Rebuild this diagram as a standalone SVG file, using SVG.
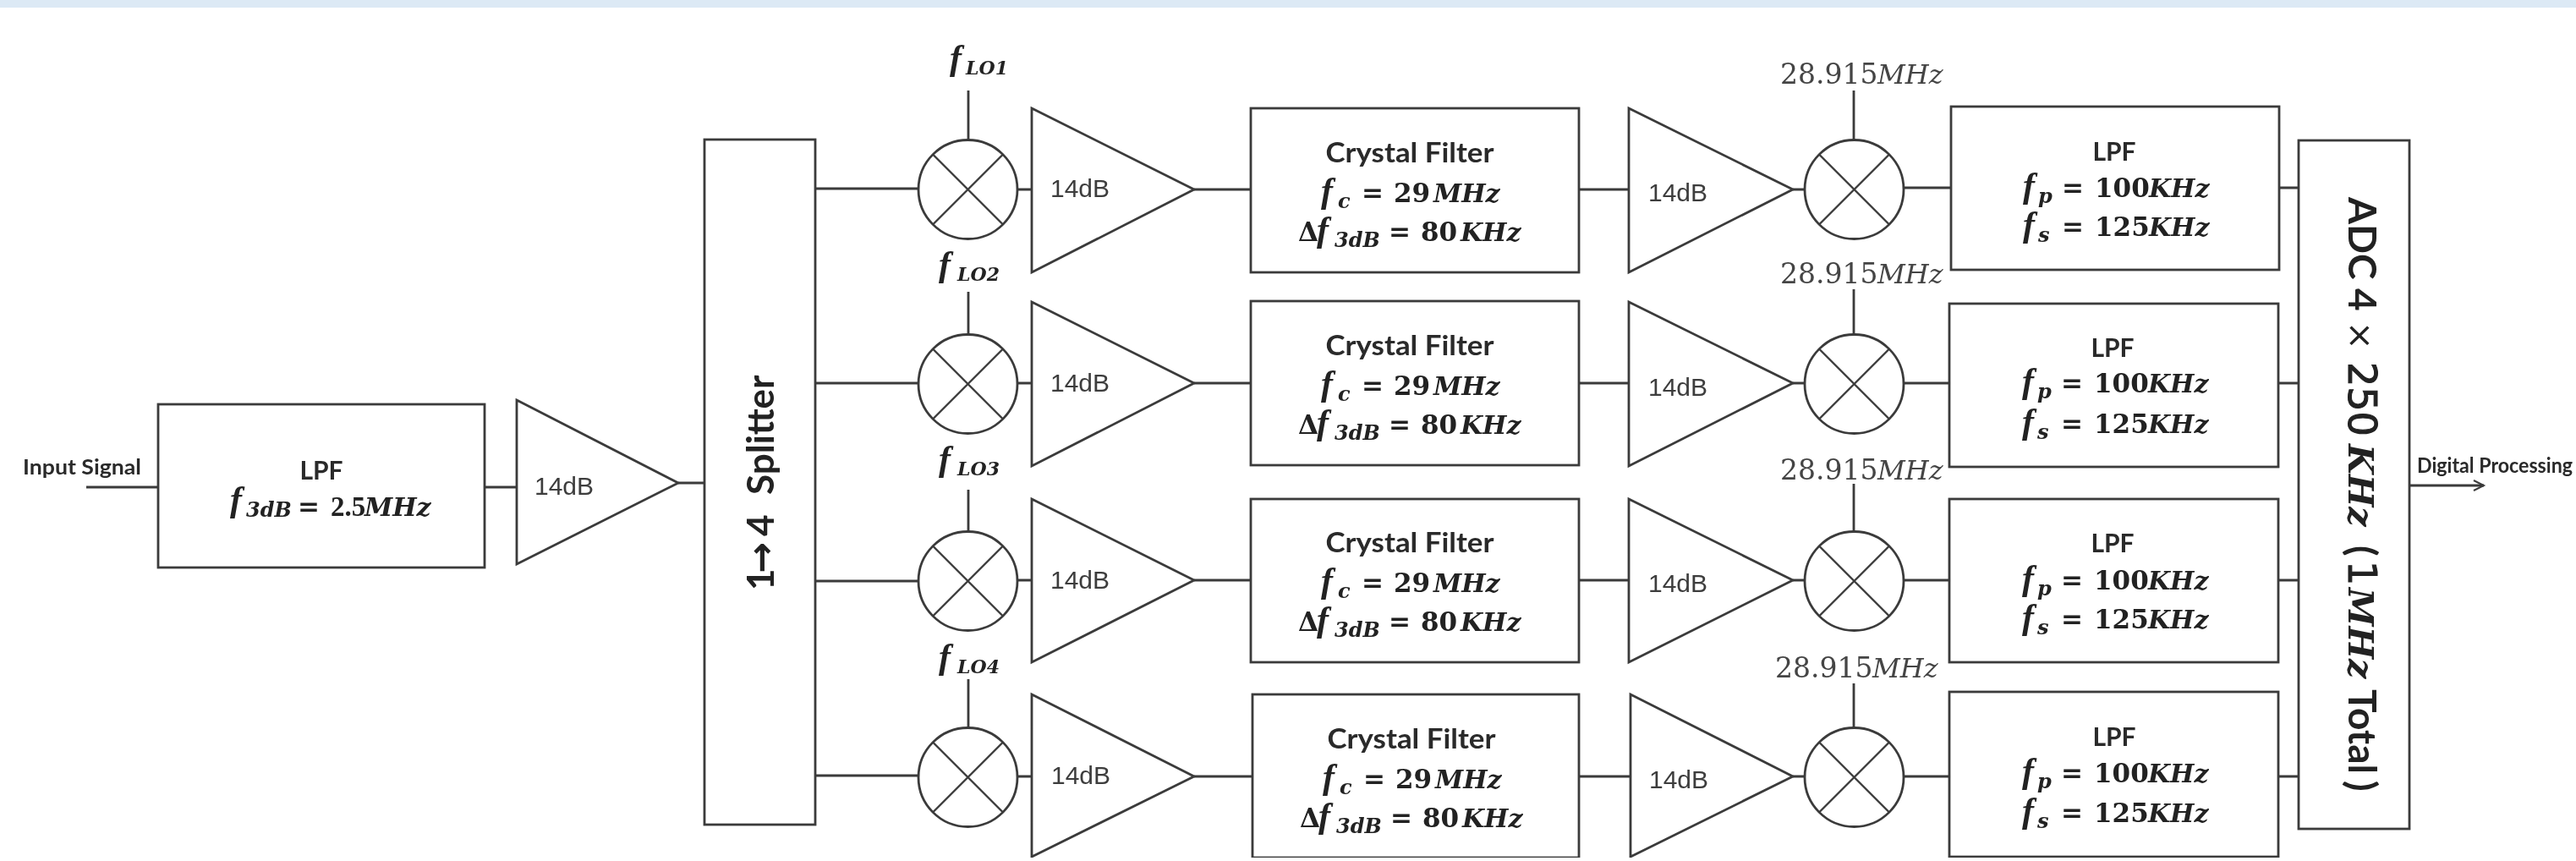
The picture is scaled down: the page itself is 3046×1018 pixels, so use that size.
<svg xmlns="http://www.w3.org/2000/svg" width="3046" height="1018" viewBox="0 0 3046 1018">
<defs>
<style>
.s{fill:none;stroke:#3a3a3a;stroke-width:2.4}
.b{fill:#fff;stroke:#3a3a3a;stroke-width:2.8}
.c{fill:none;stroke:#3a3a3a;stroke-width:2.8}
.g{font-family:"Liberation Sans",Arial,sans-serif;font-size:30px;fill:#3c3c3c}
.t{font-family:Lato,"Liberation Sans",sans-serif;font-weight:700;font-size:30px;fill:#2a2a2a;text-anchor:middle}
.x{font-size:33px}
.l{font-family:Lato,"Liberation Sans",sans-serif;font-weight:700;font-size:24px;fill:#2a2a2a}
.m{font-family:"DejaVu Serif",serif;font-weight:700;font-size:31px;fill:#222}
.f{font-family:"Liberation Serif",serif;font-style:italic;font-size:42px}
.e{font-style:italic;font-size:30px}
.u{font-style:italic;font-size:24px}
.o{font-style:italic;font-size:22px}
.n{font-family:"DejaVu Serif",serif;font-size:33px;fill:#444}
.ni{font-style:italic;font-size:32px}
.r{font-family:Lato,"Liberation Sans",sans-serif;font-weight:700;font-size:46px;fill:#222}
.ds{font-family:"DejaVu Sans",sans-serif;font-weight:400;stroke:#222;stroke-width:1}
.dsb{font-family:"DejaVu Sans",sans-serif}
.ri{font-family:"DejaVu Serif",serif;font-style:italic;font-size:41px}
</style>
<filter id="soft" x="0" y="0" width="100%" height="100%"><feGaussianBlur stdDeviation="0.7"/></filter>
<marker id="arrow" markerWidth="18" markerHeight="18" refX="15" refY="8" orient="auto" markerUnits="userSpaceOnUse"><path d="M3 2 L15 8 L3 14" fill="none" stroke="#3a3a3a" stroke-width="2"/></marker>
<g id="mix"><circle r="58.5" class="b"/><path d="M-41 -41L41 41M-41 41L41 -41" class="s"/></g>
</defs>
<rect width="3046" height="1018" fill="#fff"/>
<rect id="top-band" width="3046" height="9" fill="#dce9f5"/>
<g id="picture" filter="url(#soft)">
<g id="connectors" class="c">
<path d="M102 576H187M573 576H611M802 571H833"/>
<path d="M964 223H1086M1203 224H1220M1412 224H1479M1867 224H1926M2120 224H2134M2251 222H2307M2695 222H2718"/>
<path d="M964 453H1086M1203 453H1220M1412 453H1479M1867 453H1926M2120 453H2134M2251 453H2305M2694 453H2718"/>
<path d="M964 687H1086M1203 686H1220M1412 686H1479M1867 686H1926M2120 686H2134M2251 686H2305M2694 686H2718"/>
<path d="M964 917H1086M1203 918H1220M1412 918H1481M1867 918H1928M2120 918H2134M2251 918H2305M2694 918H2718"/>
<path d="M1145 107V166M1145 345V396M1145 579V628M1145 803V860"/>
<path d="M2192 107V166M2192 342V396M2192 572V628M2192 808V860"/>
<path d="M2849 574H2937" marker-end="url(#arrow)"/>
</g>
<g id="input-label"><text class="l" x="27" y="561" textLength="140" lengthAdjust="spacingAndGlyphs">Input Signal</text></g>
<g id="lpf-in"><rect class="b" x="187" y="478" width="386" height="193"/><text class="t" x="380" y="567">LPF</text>
<text class="m"><tspan class="f" x="272" y="604">f</tspan><tspan class="u" x="291" y="611">3dB </tspan><tspan x="352" y="610">= </tspan><tspan x="391" font-family="Liberation Serif" font-size="33">2.5</tspan><tspan class="e" x="431">MHz</tspan></text></g>
<g id="amp-in"><path class="b" d="M611 473L802 571L611 667Z"/><text class="g" x="632" y="585">14dB</text></g>
<g id="splitter"><rect class="b" x="833" y="165" width="131" height="810"/><text class="r" style="font-size:44px" transform="translate(915 698) rotate(-90)"><tspan x="0">1</tspan><tspan class="dsb" x="20">→</tspan><tspan x="64">4 </tspan><tspan x="113">Splitter</tspan></text></g>

<g id="row1-lo"><text class="m"><tspan class="f" x="1123" y="82">f</tspan><tspan class="o" x="1142" y="88">LO1</tspan></text></g>
<g id="row1-mixer1"><use href="#mix" x="1144.5" y="224"/></g>
<g id="row1-amp1"><path class="b" d="M1220 128L1412 224L1220 322Z"/><text class="g" x="1242" y="233">14dB</text></g>
<g id="row1-crystal"><rect class="b" x="1479" y="128" width="388" height="194"/><text class="t x" x="1667" y="192" textLength="199" lengthAdjust="spacingAndGlyphs">Crystal Filter</text>
<text class="m"><tspan class="f" x="1562" y="239">f</tspan><tspan class="u" x="1582" y="246">c </tspan><tspan x="1610" y="239">= </tspan><tspan x="1648">29</tspan><tspan class="e" x="1695">MHz</tspan></text>
<text class="m"><tspan x="1535" y="285">Δ</tspan><tspan class="f" x="1557">f</tspan><tspan class="u" x="1578" y="292">3dB </tspan><tspan x="1642" y="285">= </tspan><tspan x="1680">80</tspan><tspan class="e" x="1727">KHz</tspan></text></g>
<g id="row1-amp2"><path class="b" d="M1926 128L2120 224L1926 322Z"/><text class="g" x="1949" y="238">14dB</text></g>
<g id="row1-lo2"><text class="n"><tspan x="2105" y="99">28.915</tspan><tspan class="ni" x="2220">MHz</tspan></text></g>
<g id="row1-mixer2"><use href="#mix" x="2192.5" y="224"/></g>
<g id="row1-lpf"><rect class="b" x="2307" y="126" width="388" height="193"/><text class="t" x="2500" y="190">LPF</text>
<text class="m"><tspan class="f" x="2392" y="233">f</tspan><tspan class="u" x="2410" y="240">p </tspan><tspan x="2438" y="233">= </tspan><tspan x="2477">100</tspan><tspan class="e" x="2541">KHz</tspan></text>
<text class="m"><tspan class="f" x="2392" y="279">f</tspan><tspan class="u" x="2410" y="286">s </tspan><tspan x="2438" y="279">= </tspan><tspan x="2477">125</tspan><tspan class="e" x="2541">KHz</tspan></text></g>

<g id="row2-lo"><text class="m"><tspan class="f" x="1110" y="326">f</tspan><tspan class="o" x="1132" y="332">LO2</tspan></text></g>
<g id="row2-mixer1"><use href="#mix" x="1144.5" y="454"/></g>
<g id="row2-amp1"><path class="b" d="M1220 357L1412 453L1220 551Z"/><text class="g" x="1242" y="463">14dB</text></g>
<g id="row2-crystal"><rect class="b" x="1479" y="356" width="388" height="194"/><text class="t x" x="1667" y="420" textLength="199" lengthAdjust="spacingAndGlyphs">Crystal Filter</text>
<text class="m"><tspan class="f" x="1562" y="467">f</tspan><tspan class="u" x="1582" y="474">c </tspan><tspan x="1610" y="467">= </tspan><tspan x="1648">29</tspan><tspan class="e" x="1695">MHz</tspan></text>
<text class="m"><tspan x="1535" y="513">Δ</tspan><tspan class="f" x="1557">f</tspan><tspan class="u" x="1578" y="520">3dB </tspan><tspan x="1642" y="513">= </tspan><tspan x="1680">80</tspan><tspan class="e" x="1727">KHz</tspan></text></g>
<g id="row2-amp2"><path class="b" d="M1926 357L2120 453L1926 551Z"/><text class="g" x="1949" y="468">14dB</text></g>
<g id="row2-lo2"><text class="n"><tspan x="2105" y="335">28.915</tspan><tspan class="ni" x="2220">MHz</tspan></text></g>
<g id="row2-mixer2"><use href="#mix" x="2192.5" y="454"/></g>
<g id="row2-lpf"><rect class="b" x="2305" y="359" width="389" height="193"/><text class="t" x="2498" y="422">LPF</text>
<text class="m"><tspan class="f" x="2391" y="464">f</tspan><tspan class="u" x="2409" y="471">p </tspan><tspan x="2437" y="464">= </tspan><tspan x="2476">100</tspan><tspan class="e" x="2540">KHz</tspan></text>
<text class="m"><tspan class="f" x="2391" y="512">f</tspan><tspan class="u" x="2409" y="519">s </tspan><tspan x="2437" y="512">= </tspan><tspan x="2476">125</tspan><tspan class="e" x="2540">KHz</tspan></text></g>

<g id="row3-lo"><text class="m"><tspan class="f" x="1110" y="556">f</tspan><tspan class="o" x="1132" y="562">LO3</tspan></text></g>
<g id="row3-mixer1"><use href="#mix" x="1144.5" y="687"/></g>
<g id="row3-amp1"><path class="b" d="M1220 590L1412 686L1220 783Z"/><text class="g" x="1242" y="696">14dB</text></g>
<g id="row3-crystal"><rect class="b" x="1479" y="590" width="388" height="193"/><text class="t x" x="1667" y="653" textLength="199" lengthAdjust="spacingAndGlyphs">Crystal Filter</text>
<text class="m"><tspan class="f" x="1562" y="700">f</tspan><tspan class="u" x="1582" y="707">c </tspan><tspan x="1610" y="700">= </tspan><tspan x="1648">29</tspan><tspan class="e" x="1695">MHz</tspan></text>
<text class="m"><tspan x="1535" y="746">Δ</tspan><tspan class="f" x="1557">f</tspan><tspan class="u" x="1578" y="753">3dB </tspan><tspan x="1642" y="746">= </tspan><tspan x="1680">80</tspan><tspan class="e" x="1727">KHz</tspan></text></g>
<g id="row3-amp2"><path class="b" d="M1926 590L2120 686L1926 783Z"/><text class="g" x="1949" y="700">14dB</text></g>
<g id="row3-lo2"><text class="n"><tspan x="2105" y="567">28.915</tspan><tspan class="ni" x="2220">MHz</tspan></text></g>
<g id="row3-mixer2"><use href="#mix" x="2192.5" y="687"/></g>
<g id="row3-lpf"><rect class="b" x="2305" y="590" width="389" height="193"/><text class="t" x="2498" y="653">LPF</text>
<text class="m"><tspan class="f" x="2391" y="697">f</tspan><tspan class="u" x="2409" y="704">p </tspan><tspan x="2437" y="697">= </tspan><tspan x="2476">100</tspan><tspan class="e" x="2540">KHz</tspan></text>
<text class="m"><tspan class="f" x="2391" y="743">f</tspan><tspan class="u" x="2409" y="750">s </tspan><tspan x="2437" y="743">= </tspan><tspan x="2476">125</tspan><tspan class="e" x="2540">KHz</tspan></text></g>

<g id="row4-lo"><text class="m"><tspan class="f" x="1110" y="790">f</tspan><tspan class="o" x="1132" y="796">LO4</tspan></text></g>
<g id="row4-mixer1"><use href="#mix" x="1144.5" y="919"/></g>
<g id="row4-amp1"><path class="b" d="M1220 821L1412 918L1220 1013Z"/><text class="g" x="1243" y="927">14dB</text></g>
<g id="row4-crystal"><rect class="b" x="1481" y="821" width="386" height="193"/><text class="t x" x="1669" y="885" textLength="199" lengthAdjust="spacingAndGlyphs">Crystal Filter</text>
<text class="m"><tspan class="f" x="1564" y="932">f</tspan><tspan class="u" x="1584" y="939">c </tspan><tspan x="1612" y="932">= </tspan><tspan x="1650">29</tspan><tspan class="e" x="1697">MHz</tspan></text>
<text class="m"><tspan x="1537" y="978">Δ</tspan><tspan class="f" x="1559">f</tspan><tspan class="u" x="1580" y="985">3dB </tspan><tspan x="1644" y="978">= </tspan><tspan x="1682">80</tspan><tspan class="e" x="1729">KHz</tspan></text></g>
<g id="row4-amp2"><path class="b" d="M1928 821L2120 918L1928 1013Z"/><text class="g" x="1950" y="932">14dB</text></g>
<g id="row4-lo2"><text class="n"><tspan x="2099" y="801">28.915</tspan><tspan class="ni" x="2214">MHz</tspan></text></g>
<g id="row4-mixer2"><use href="#mix" x="2192.5" y="919"/></g>
<g id="row4-lpf"><rect class="b" x="2305" y="818" width="389" height="195"/><text class="t" x="2500" y="882">LPF</text>
<text class="m"><tspan class="f" x="2391" y="925">f</tspan><tspan class="u" x="2409" y="932">p </tspan><tspan x="2437" y="925">= </tspan><tspan x="2476">100</tspan><tspan class="e" x="2540">KHz</tspan></text>
<text class="m"><tspan class="f" x="2391" y="972">f</tspan><tspan class="u" x="2409" y="979">s </tspan><tspan x="2437" y="972">= </tspan><tspan x="2476">125</tspan><tspan class="e" x="2540">KHz</tspan></text></g>

<g id="adc"><rect class="b" x="2718" y="166" width="131" height="814"/><text class="r" transform="translate(2777 233) rotate(90)"><tspan x="0">ADC </tspan><tspan x="108">4 </tspan><tspan class="ds" x="147" font-size="40" style="stroke-width:0">× </tspan><tspan class="ds" x="195">250</tspan><tspan class="ri" x="292">KHz </tspan><tspan x="412">(</tspan><tspan class="ds" x="430">1</tspan><tspan class="ri" x="462">MHz </tspan><tspan x="582">Total</tspan><tspan x="690">)</tspan></text></g>
<g id="output-label"><text class="l" x="2858" y="559" textLength="184" lengthAdjust="spacingAndGlyphs">Digital Processing</text></g>
</g>
</svg>
